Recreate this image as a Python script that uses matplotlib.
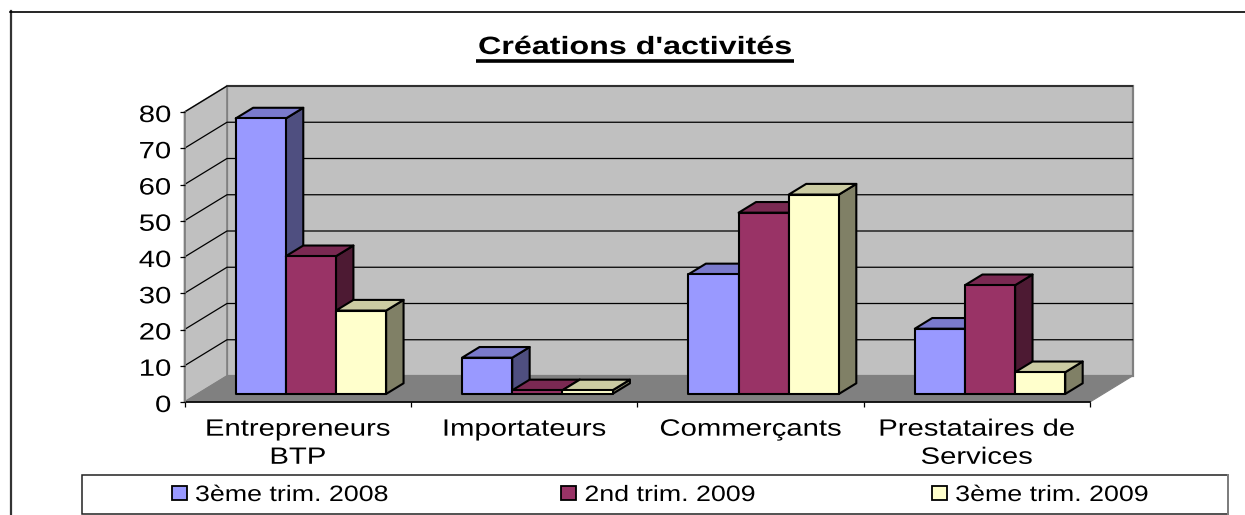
import matplotlib
matplotlib.use("Agg")
import matplotlib.pyplot as plt
from matplotlib.patches import Polygon, Rectangle, Patch
from matplotlib.patheffects import AbstractPathEffect
from matplotlib.transforms import Affine2D
from matplotlib.lines import Line2D

categories = ["Entrepreneurs\nBTP", "Importateurs", "Commerçants", "Prestataires de\nServices"]
series_names = ["3ème trim. 2008", "2nd trim. 2009", "3ème trim. 2009"]
t3_2008 = [76, 10, 33, 18]
t2_2009 = [38, 1, 50, 30]
t3_2009 = [23, 1, 55, 6]
y_ticks = [0, 10, 20, 30, 40, 50, 60, 70, 80]

front_cols = ["#9999FF", "#993366", "#FFFFCC"]
top_cols = ["#7A7ACC", "#7A2952", "#CCCCA3"]
side_cols = ["#4F4F80", "#4D1A33", "#808066"]

W, H = 1245, 515
plt.rcParams['font.family'] = ['Liberation Sans', 'DejaVu Sans']


# the source picture was stretched sideways, so the text is wider than any font
class Widen(AbstractPathEffect):
    def __init__(self, text, sx, dy):
        super().__init__()
        self.text = text
        self.sx = sx
        self.dy = dy

    def draw_path(self, renderer, gc, tpath, affine, rgbFace=None):
        cx = self.text.get_transform().transform(self.text.get_position())[0]
        wide = affine + Affine2D().translate(-cx, 0).scale(self.sx, 1).translate(cx, self.dy)
        renderer.draw_path(gc, tpath, wide, rgbFace)


def widen(text, sx=1.24, dy=0):
    text.set_path_effects([Widen(text, sx, dy)])


fig = plt.figure(figsize=(W / 100, H / 100), dpi=100)

# chart border: left and top only, the rest is cut off in the picture
fig.add_artist(Line2D([10.5 / W, 10.5 / W], [0, 1 - 11 / H], color="#333333", lw=1.6))
fig.add_artist(Line2D([10 / W, 1], [1 - 11.5 / H, 1 - 11.5 / H], color="black", lw=1.2))

# front plane of the plot
x0, x1, y0, y1 = 184.5, 1090, 402, 112
ax = fig.add_axes([x0 / W, 1 - y0 / H, (x1 - x0) / W, (y0 - y1) / H])
ax.set_xlim(0, 4)
ax.set_ylim(0, 80)
ax.patch.set_visible(False)
for s in ["top", "right", "bottom"]:
    ax.spines[s].set_visible(False)
ax.spines["left"].set_color("#808080")
ax.spines["left"].set_linewidth(1.2)
ax.spines["left"].set_zorder(1)

# depth of the box, in data units
DX = 42.5 * 4 / (x1 - x0)
DY = 26 * 80 / (y0 - y1)
D_START, D_END = 0.31, 0.72
BAR_W = 0.2215
GAP = 0.168

ax.add_patch(Rectangle((DX, DY), 4, 80, fc="#C0C0C0", ec="#808080", lw=1.6, zorder=0, clip_on=False))
ax.add_patch(Polygon([(0, 0), (DX, DY), (DX, 80 + DY), (0, 80)], fc="#C0C0C0", ec="#808080", lw=1.2, zorder=0, clip_on=False))
ax.add_patch(Polygon([(0, 0), (4, 0), (4 + DX, DY), (DX, DY)], fc="#808080", ec="#808080", lw=0.8, zorder=0.5, clip_on=False))

for v in y_ticks[1:]:
    ax.plot([0, DX, 4 + DX], [v, v + DY, v + DY], color="black", lw=0.9, zorder=0.8, clip_on=False)
ax.plot([0, 4], [0, 0], color="black", lw=1.2, zorder=1, clip_on=False)

# bars, drawn left to right so the next front face hides the side of the previous one
for i in range(len(categories)):
    for j, vals in enumerate([t3_2008, t2_2009, t3_2009]):
        v = vals[i]
        l = i + GAP + j * BAR_W + D_START * DX
        r = l + BAR_W
        b = D_START * DY
        ddx = (D_END - D_START) * DX
        ddy = (D_END - D_START) * DY
        kw = dict(ec="black", lw=1.5, joinstyle="round", zorder=2, clip_on=False)
        ax.add_patch(Polygon([(r, b), (r + ddx, b + ddy), (r + ddx, b + v + ddy), (r, b + v)], fc=side_cols[j], **kw))
        ax.add_patch(Polygon([(l, b + v), (r, b + v), (r + ddx, b + v + ddy), (l + ddx, b + v + ddy)], fc=top_cols[j], **kw))
        ax.add_patch(Rectangle((l, b), BAR_W, v, fc=front_cols[j], **kw))

ax.set_yticks(y_ticks)
ax.set_xticks(range(5))
ax.set_xticklabels([])
ax.set_xticks([0.5, 1.5, 2.5, 3.5], labels=categories, minor=True)
ax.tick_params(axis="x", which="major", length=3.5, width=0.9, color="black")
ax.tick_params(axis="x", which="minor", length=0, pad=12, labelsize=17)
ax.tick_params(axis="y", length=3.5, width=0.9, color="black", pad=6, labelsize=17)
for t in ax.get_yticklabels():
    widen(t, dy=-1.5)
for t in ax.get_xticklabels(minor=True):
    widen(t)
    t.set_linespacing(1.36)

# title
title = fig.text(635 / W, 1 - 54 / H, "Créations d'activités", ha="center", va="baseline", fontsize=18, fontweight="bold")
widen(title, 1.29)
fig.add_artist(Line2D([476 / W, 794 / W], [1 - 60.5 / H, 1 - 60.5 / H], color="black", lw=2.6, solid_capstyle="butt"))

# legend box, the legend itself has no frame so it can sit freely inside
fig.add_artist(Rectangle((82 / W, 1 - 513.5 / H), 1146 / W, 38.5 / H, fc="white", ec="#222222", lw=1.1, transform=fig.transFigure))
fig.add_artist(Line2D([1228 / W, 1228 / W], [1 - 513.5 / H, 1 - 475 / H], color="#808080", lw=1.4))
handles = [Patch(fc=c, ec="black", lw=1.3) for c in front_cols]
leg = fig.legend(handles, series_names, ncol=3, frameon=False, loc="lower left",
                 bbox_to_anchor=(172 / W, 1 - 506 / H), borderpad=0, borderaxespad=0,
                 fontsize=16, handlelength=0.675, handleheight=0.58, handletextpad=0.36, columnspacing=9.26)
for t in leg.get_texts():
    widen(t, 1.205)

fig.savefig("out.png", dpi=100)
